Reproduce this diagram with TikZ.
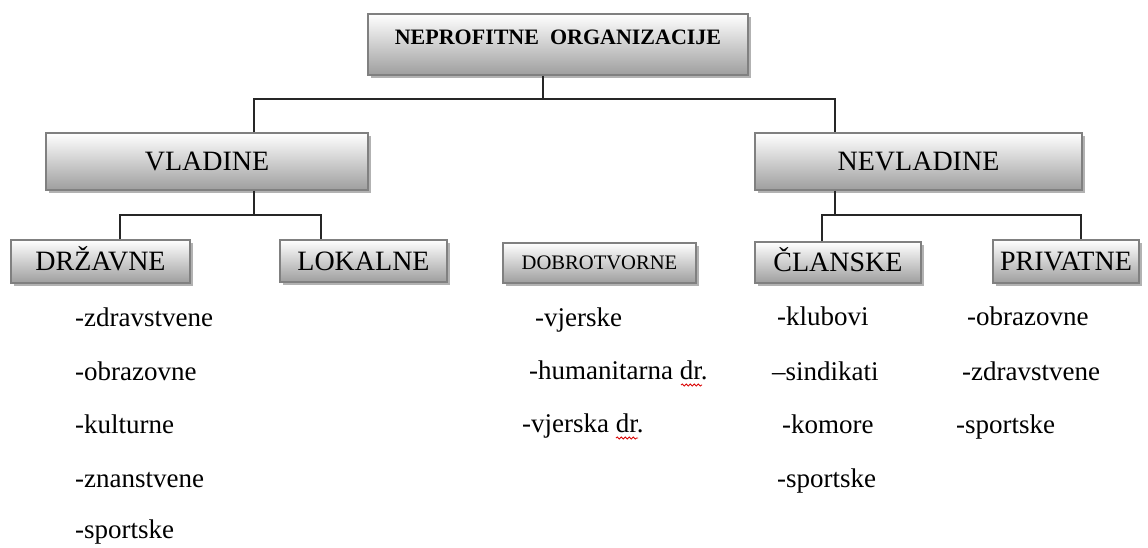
\documentclass[tikz,border=0pt]{standalone}
\usepackage{fontspec}
\setmainfont{Liberation Serif}
\usetikzlibrary{shadows,decorations.pathmorphing}
\tikzset{
  orgbox/.style={draw=black!50, line width=1.3pt, top color=white, bottom color=black!38,
    drop shadow={shadow xshift=3pt, shadow yshift=-3pt, opacity=0.3, fill=black},
    inner sep=0pt, font=\fontsize{28}{32}\selectfont, text height=18.5pt, text depth=0pt},
  conn/.style={draw=black!85, line width=1.5pt},
  item/.style={anchor=base west, inner sep=0pt, font=\fontsize{27}{32}\selectfont},
  squig/.style={draw=red!85!black, line width=0.8pt, decorate,
    decoration={snake, amplitude=1.1pt, segment length=4pt}}
}
\begin{document}
\begin{tikzpicture}[x=1pt,y=-1pt]
\useasboundingbox (0,0) rectangle (1148,547);
% boxes
\node[orgbox, minimum width=380pt, minimum height=61pt,
      font=\fontsize{22}{26}\selectfont\bfseries, text height=14.6pt, text depth=15pt]
      (top) at (558,44.5) {NEPROFITNE\ \ ORGANIZACIJE};
\node[orgbox, minimum width=322pt, minimum height=57pt] (vl) at (207,161.5) {VLADINE};
\node[orgbox, minimum width=327pt, minimum height=57pt] (nv) at (918.5,161.5) {NEVLADINE};
\node[orgbox, minimum width=179pt, minimum height=43pt] (dr) at (100.5,261.5) {DRŽAVNE};
\node[orgbox, minimum width=167pt, minimum height=42pt] (lo) at (363.5,261) {LOKALNE};
\node[orgbox, minimum width=193pt, minimum height=40pt,
      font=\fontsize{20.6}{24}\selectfont, text height=13.6pt] (do) at (599.5,263) {DOBROTVORNE};
\node[orgbox, minimum width=166pt, minimum height=41pt] (cl) at (838,262.5) {ČLANSKE};
\node[orgbox, minimum width=146pt, minimum height=43pt] (pr) at (1066,261.5) {PRIVATNE};
% connectors
\coordinate (t1) at (543,99);
\coordinate (hl) at (254,99);
\coordinate (hr) at (835,99);
\draw[conn] (t1 |- top.south) -- (t1);
\draw[conn] (hl |- vl.north) -- (hl) -- (hr) -- (hr |- nv.north);
\coordinate (v1) at (254,215);
\coordinate (v1l) at (120,215);
\coordinate (v1r) at (321,215);
\draw[conn] (v1 |- vl.south) -- (v1);
\draw[conn] (v1l |- dr.north) -- (v1l) -- (v1r) -- (v1r |- lo.north);
\coordinate (n1) at (835,215);
\coordinate (n1l) at (822,215);
\coordinate (n1r) at (1081,215);
\draw[conn] (n1 |- nv.south) -- (n1);
\draw[conn] (n1l |- cl.north) -- (n1l) -- (n1r) -- (n1r |- pr.north);
% lists
\node[item] (a1) at (75,326) {-zdravstvene};
\node[item] (a2) at (75,380) {-obrazovne};
\node[item] (a3) at (75,433) {-kulturne};
\node[item] (a4) at (75,487) {-znanstvene};
\node[item] (a5) at (75,538) {-sportske};
\node[item] (b1) at (535,326) {-vjerske};
\node[item] (b2) at (529,379) {-humanitarna dr.};
\node[item] (b3) at (522,432) {-vjerska dr.};
\node[item] (c1) at (777,325) {-klubovi};
\node[item] (c2) at (772,380) {–sindikati};
\node[item] (c3) at (782,433) {-komore};
\node[item] (c4) at (777,487) {-sportske};
\node[item] (d1) at (967,325) {-obrazovne};
\node[item] (d2) at (962,380) {-zdravstvene};
\node[item] (d3) at (956,433) {-sportske};
% spell-check marks
\draw[squig] (681,385) -- (702,385);
\draw[squig] (616,438) -- (638,438);
\end{tikzpicture}
\end{document}
